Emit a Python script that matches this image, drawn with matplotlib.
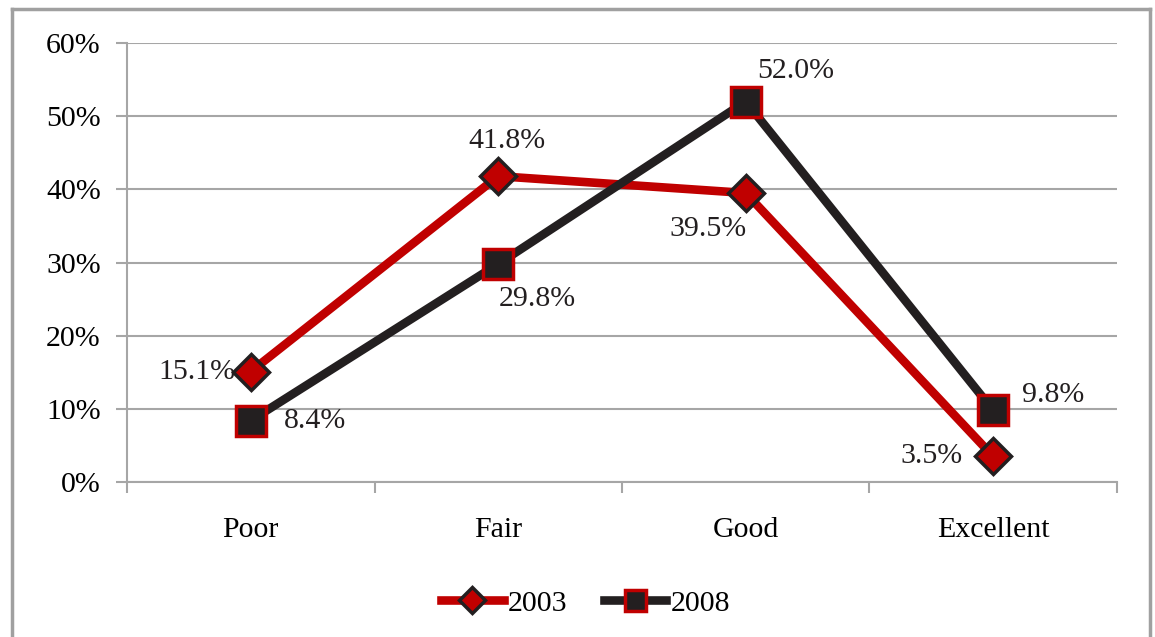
import matplotlib
matplotlib.use("Agg")
import matplotlib.pyplot as plt
from matplotlib.lines import Line2D
import numpy as np

categories = ["Poor", "Fair", "Good", "Excellent"]
values_2003 = [15.1, 41.8, 39.5, 3.5]
values_2008 = [8.4, 29.8, 52.0, 9.8]
y_ticks = [0, 10, 20, 30, 40, 50, 60]

plt.rcParams['font.family'] = ['Liberation Serif', 'DejaVu Serif']

RED = "#c00000"
DARK = "#231f20"
GRID = "#a6a6a6"
FS = 21.5

fig = plt.figure(figsize=(11.55, 6.37), dpi=100)
ax = fig.add_axes([0.110, 0.2433, 0.857, 0.6892])

x = np.arange(len(categories)) + 0.5

ax.plot(x, values_2003, color=RED, lw=6.2, marker="D", ms=18,
        mfc=RED, mec=DARK, mew=2.5, label="2003", zorder=3)
ax.plot(x, values_2008, color=DARK, lw=6.2, marker="s", ms=21,
        mfc=DARK, mec=RED, mew=2.5, label="2008", zorder=4)

ax.set_xlim(0, 4)
ax.set_ylim(0, 60)
ax.set_yticks(y_ticks)
ax.set_yticklabels([f"{v}%" for v in y_ticks], fontsize=FS)
ax.set_xticks(x)
ax.set_xticklabels(categories, fontsize=FS)
ax.set_xticks(np.arange(0, 5), minor=True)
ax.tick_params(axis="x", which="major", length=0, pad=25)
ax.tick_params(axis="x", which="minor", length=8, width=1.5, color=GRID)
ax.tick_params(axis="y", length=8, width=1.5, color=GRID, pad=11)
ax.yaxis.grid(True, color=GRID, lw=1.5)
ax.set_axisbelow(True)
for s in ["top", "right"]:
    ax.spines[s].set_visible(False)
for s in ["left", "bottom"]:
    ax.spines[s].set_color(GRID)
    ax.spines[s].set_linewidth(1.5)

# data labels: (dx, dy) in points, horizontal alignment
lab_2003 = [(-11, 0, "right"), (6, 25, "center"), (-27, -26, "center"), (-22, 0, "right")]
lab_2008 = [(24, 0, "left"), (28, -25, "center"), (36, 22, "center"), (21, 11, "left")]
for vals, labs in [(values_2003, lab_2003), (values_2008, lab_2008)]:
    for xi, v, (dx, dy, ha) in zip(x, vals, labs):
        ax.annotate(f"{v:.1f}%", (xi, v), xytext=(dx, dy), textcoords="offset points",
                    ha=ha, va="center", fontsize=FS, color=DARK)

fig.legend(loc="center", bbox_to_anchor=(0.507, 0.053), ncol=2, frameon=False,
           fontsize=FS, handlelength=2.1, handletextpad=0.15, columnspacing=1.2,
           markerscale=0.72)

# outer chart border (open at the bottom)
bx0, bx1, by = 11.5 / 1155, 1149.5 / 1155, 1 - 8.5 / 637
for xs, ys in [([bx0, bx0], [0, by]), ([bx0, bx1], [by, by]), ([bx1, bx1], [by, 0])]:
    fig.add_artist(Line2D(xs, ys, color="#a0a0a0", lw=2.5, transform=fig.transFigure))

fig.savefig("out.png", dpi=100)
